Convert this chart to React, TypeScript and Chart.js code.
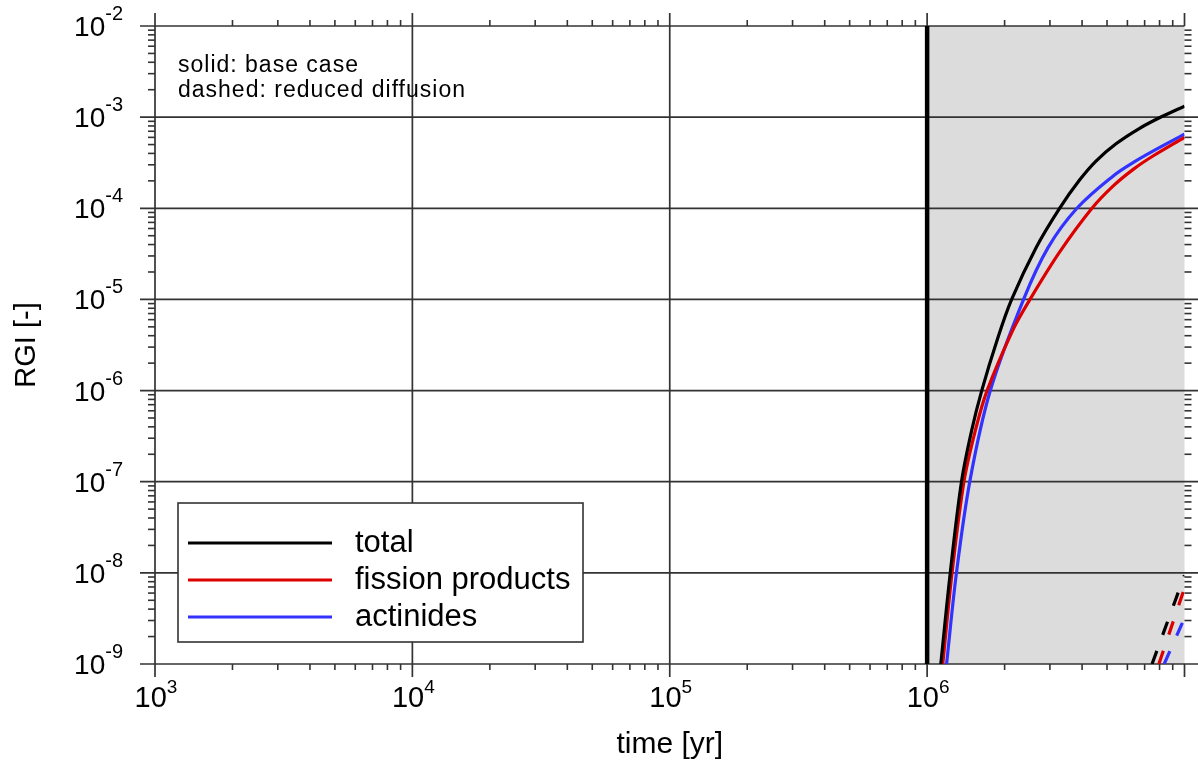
import React, { useEffect, useRef } from 'react';
import { Chart, registerables } from 'chart.js';

Chart.register(...registerables);

// ---- Data ----
const totalT = [1.13e6, 1.23e6, 1.36e6, 1.49e6, 1.63e6, 1.87e6, 2.13e6, 2.65e6, 3.27e6, 3.91e6, 4.53e6, 5.42e6, 6.67e6, 8.26e6, 1e7];
const totalRGI = [1e-9, 1e-8, 1e-7, 3.67e-7, 1e-6, 3.57e-6, 1e-5, 3.7e-5, 1e-4, 2.04e-4, 3.3e-4, 5.1e-4, 7.5e-4, 1.03e-3, 1.32e-3];

const fissionT = [1.15e6, 1.25e6, 1.39e6, 1.54e6, 1.71e6, 2.16e6, 2.51e6, 3.27e6, 4.37e6, 5.3e6, 6.34e6, 7.57e6, 1e7];
const fissionRGI = [1e-9, 1e-8, 1e-7, 3.67e-7, 1e-6, 4.7e-6, 1e-5, 3.3e-5, 1e-4, 1.77e-4, 2.69e-4, 3.77e-4, 6.0e-4];

const actinideT = [1.19e6, 1.3e6, 1.47e6, 1.76e6, 2.37e6, 2.95e6, 3.82e6, 5.3e6, 6.33e6, 7.57e6, 1e7];
const actinideRGI = [1e-9, 1e-8, 1.06e-7, 1e-6, 1e-5, 3.7e-5, 1e-4, 2.28e-4, 3.19e-4, 4.27e-4, 6.5e-4];

// reduced diffusion (dashed)
const totalDashT = [7.48e6, 1e7];
const totalDashRGI = [1e-9, 9.4e-9];
const fissionDashT = [7.95e6, 1e7];
const fissionDashRGI = [1e-9, 6.8e-9];
const actinideDashT = [8.34e6, 1e7];
const actinideDashRGI = [1e-9, 3.2e-9];

// axes
const xMin = 1e3;
const xMax = 1e7;
const yMin = 1e-9;
const yMax = 1e-2;
const xDecades = [1e3, 1e4, 1e5, 1e6, 1e7];
const xLabelDecades = [1e3, 1e4, 1e5, 1e6];
const xExponents = ['3', '4', '5', '6'];
const yDecades = [1e-9, 1e-8, 1e-7, 1e-6, 1e-5, 1e-4, 1e-3, 1e-2];
const yExponents = ['-9', '-8', '-7', '-6', '-5', '-4', '-3', '-2'];
const shadeFrom = 1e6;
const shadeTo = 1e7;

const seriesLabels = ['total', 'fission products', 'actinides'];
const seriesColors = ['#000000', '#dd0000', '#3333ff'];
const noteLines = ['solid: base case', 'dashed: reduced diffusion'];
const xTitle = 'time [yr]';
const yTitle = 'RGI [-]';

const FONT = '"Liberation Sans", Arial, sans-serif';
const AXIS = '#333333';

const decorPlugin = {
  id: 'decor',
  beforeDatasetsDraw(chart: any) {
    const { ctx, chartArea: a, scales } = chart;
    const xs = scales.x;
    const ys = scales.y;
    const line = (x1: number, y1: number, x2: number, y2: number, w: number, c: string) => {
      ctx.beginPath();
      ctx.strokeStyle = c;
      ctx.lineWidth = w;
      ctx.moveTo(x1, y1);
      ctx.lineTo(x2, y2);
      ctx.stroke();
    };
    ctx.save();
    // shaded region
    const s0 = xs.getPixelForValue(shadeFrom);
    const s1 = xs.getPixelForValue(shadeTo);
    ctx.fillStyle = '#dcdcdc';
    ctx.fillRect(s0, a.top, s1 - s0, a.bottom - a.top);

    // minor ticks x
    for (let k = 3; k < 7; k++) {
      for (let m = 2; m <= 9; m++) {
        const px = xs.getPixelForValue(m * Math.pow(10, k));
        line(px, a.bottom, px, a.bottom + 6, 1.6, AXIS);
        line(px, a.top, px, a.top - 6, 1.6, AXIS);
      }
    }
    // minor ticks y
    for (let k = -9; k < -2; k++) {
      for (let m = 2; m <= 9; m++) {
        const py = ys.getPixelForValue(m * Math.pow(10, k));
        line(a.left - 7, py, a.left, py, 1.6, AXIS);
        line(a.right, py, a.right + 7, py, 1.6, AXIS);
      }
    }
    // horizontal decade lines
    yDecades.forEach((v) => {
      const py = ys.getPixelForValue(v);
      line(a.left - 15, py, v === yMax ? a.right : a.right + 14, py, 1.7, AXIS);
    });
    // vertical decade lines
    xDecades.forEach((v) => {
      const px = xs.getPixelForValue(v);
      if (v < shadeFrom) {
        line(px, a.top - 13, px, a.bottom + 13, 1.7, AXIS);
      } else {
        line(px, a.top - 13, px, a.top, 1.7, AXIS);
        line(px, a.bottom, px, a.bottom + 13, 1.7, AXIS);
      }
    });
    // thick marker line at 1e6
    const pm = xs.getPixelForValue(shadeFrom);
    line(pm, a.top, pm, a.bottom, 4.5, '#000000');

    // tick labels
    ctx.fillStyle = '#000000';
    ctx.textBaseline = 'alphabetic';
    xLabelDecades.forEach((v, i) => {
      const px = xs.getPixelForValue(v);
      ctx.font = `29px ${FONT}`;
      const wb = ctx.measureText('10').width;
      ctx.font = `19px ${FONT}`;
      const ws = ctx.measureText(xExponents[i]).width;
      const left = px - (wb + ws) / 2 + 1;
      ctx.textAlign = 'left';
      ctx.font = `29px ${FONT}`;
      ctx.fillText('10', left, a.bottom + 43);
      ctx.font = `19px ${FONT}`;
      ctx.fillText(xExponents[i], left + wb, a.bottom + 29);
    });
    yDecades.forEach((v, i) => {
      const py = ys.getPixelForValue(v);
      ctx.font = `20px ${FONT}`;
      const ws = ctx.measureText(yExponents[i]).width;
      ctx.textAlign = 'left';
      ctx.fillText(yExponents[i], 123 - ws, py - 6);
      ctx.font = `28px ${FONT}`;
      ctx.textAlign = 'right';
      ctx.fillText('10', 123 - ws, py + 10);
    });

    // axis titles
    ctx.font = `30px ${FONT}`;
    ctx.textAlign = 'center';
    ctx.fillText(xTitle, (a.left + a.right) / 2, 753);
    ctx.save();
    ctx.translate(35, (a.top + a.bottom) / 2);
    ctx.rotate(-Math.PI / 2);
    ctx.font = `29px ${FONT}`;
    ctx.textAlign = 'center';
    ctx.fillText(yTitle, 0, 0);
    ctx.restore();

    // note text
    ctx.font = `23px ${FONT}`;
    (ctx as any).letterSpacing = '1px';
    ctx.textAlign = 'left';
    noteLines.forEach((t, i) => ctx.fillText(t, a.left + 23, a.top + 46 + i * 25));
    (ctx as any).letterSpacing = '0px';

    // legend box
    const bx = a.left + 23;
    const by = 503;
    const bw = 405;
    const bh = 139;
    ctx.fillStyle = '#ffffff';
    ctx.fillRect(bx, by, bw, bh);
    ctx.strokeStyle = AXIS;
    ctx.lineWidth = 1.6;
    ctx.strokeRect(bx, by, bw, bh);
    seriesLabels.forEach((lab, i) => {
      const ly = by + 40 + i * 37;
      line(bx + 10, ly, bx + 154, ly, 3.2, seriesColors[i]);
      ctx.fillStyle = '#000000';
      ctx.font = `31px ${FONT}`;
      ctx.textAlign = 'left';
      ctx.fillText(lab, bx + 177, ly + 9);
    });
    ctx.restore();
  },
};

const pts = (t: number[], v: number[]) => t.map((tt, i) => ({ x: tt, y: v[i] }));

export default function App() {
  const ref = useRef<HTMLCanvasElement>(null);
  useEffect(() => {
    document.body.style.margin = '0';
    const solid = (data: any, color: string, label: string) => ({
      label,
      data,
      borderColor: color,
      backgroundColor: color,
      borderWidth: 3.2,
      showLine: true,
      pointRadius: 0,
      tension: 0.35,
    });
    const dashed = (data: any, color: string, label: string) => ({
      ...solid(data, color, label),
      tension: 0,
      borderDash: [14, 17],
    });
    const chart = new Chart(ref.current as HTMLCanvasElement, {
      type: 'scatter',
      data: {
        datasets: [
          solid(pts(totalT, totalRGI), seriesColors[0], seriesLabels[0]),
          solid(pts(fissionT, fissionRGI), seriesColors[1], seriesLabels[1]),
          solid(pts(actinideT, actinideRGI), seriesColors[2], seriesLabels[2]),
          dashed(pts(totalDashT, totalDashRGI), seriesColors[0], seriesLabels[0] + ' (reduced)'),
          dashed(pts(fissionDashT, fissionDashRGI), seriesColors[1], seriesLabels[1] + ' (reduced)'),
          dashed(pts(actinideDashT, actinideDashRGI), seriesColors[2], seriesLabels[2] + ' (reduced)'),
        ],
      },
      options: {
        responsive: false,
        animation: false,
        devicePixelRatio: 1,
        events: [],
        layout: { padding: { left: 155, right: 13.5, top: 26, bottom: 101 } },
        plugins: { legend: { display: false }, tooltip: { enabled: false } },
        scales: {
          x: { type: 'logarithmic', min: xMin, max: xMax, display: false },
          y: { type: 'logarithmic', min: yMin, max: yMax, display: false },
        },
      },
      plugins: [decorPlugin],
    });
    return () => chart.destroy();
  }, []);
  return (
    <div style={{ position: 'absolute', left: 0, top: 0, width: 1198, height: 765, background: '#ffffff' }}>
      <canvas ref={ref} width={1198} height={765} style={{ display: 'block' }} />
    </div>
  );
}
